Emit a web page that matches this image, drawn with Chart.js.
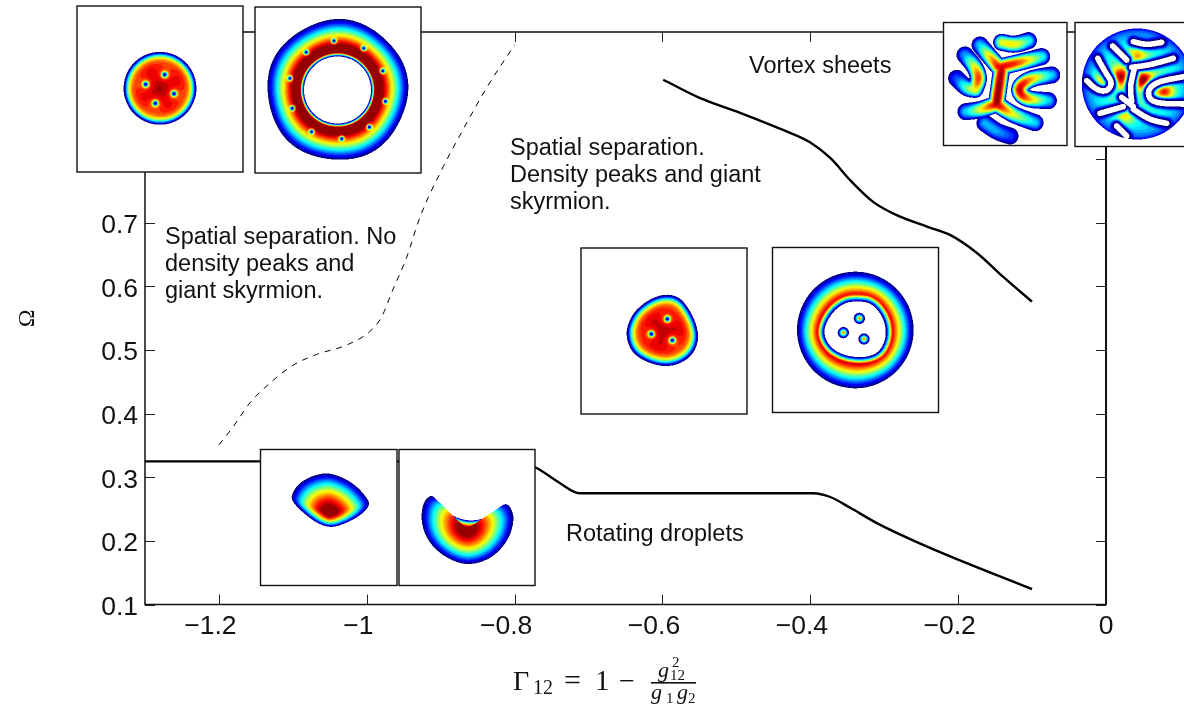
<!DOCTYPE html>
<html>
<head>
<meta charset="utf-8">
<title>Phase diagram</title>
<script src="https://cdn.jsdelivr.net/npm/chart.js@4"></script>
<style>
  html, body { margin: 0; padding: 0; background: #fff; }
  canvas { display: block; }
</style>
</head>
<body>
<canvas id="phase" width="1184" height="709"></canvas>
<script>
// phase boundaries
const dropletX = [-1.3, -1.13, -0.8, -0.771, -0.739, -0.712, -0.701, -0.396, -0.373, -0.346, -0.31, -0.238, -0.1];
const dropletY = [0.325, 0.325, 0.325, 0.315, 0.291, 0.275, 0.275, 0.275, 0.269, 0.252, 0.228, 0.189, 0.124];
const sheetX = [-0.599, -0.549, -0.495, -0.437, -0.401, -0.373, -0.346, -0.315, -0.283, -0.242, -0.211, -0.175, -0.139, -0.1];
const sheetY = [0.925, 0.896, 0.873, 0.846, 0.827, 0.802, 0.767, 0.733, 0.712, 0.694, 0.681, 0.653, 0.615, 0.576];
const dashX = [-1.2, -1.181, -1.158, -1.131, -1.1, -1.068, -1.027, -0.996, -0.98, -0.965, -0.946, -0.928, -0.901, -0.87, -0.838, -0.8];
const dashY = [0.351, 0.379, 0.417, 0.448, 0.476, 0.493, 0.508, 0.529, 0.552, 0.594, 0.646, 0.709, 0.778, 0.846, 0.912, 0.98];

const xTicks = [-1.2, -1, -0.8, -0.6, -0.4, -0.2, 0];
// the minus sign hangs out to the left in the original, trailing spaces push the label over
const xTickLabels = ["\u22121.2", "\u22121", "\u22120.8", "\u22120.6", "\u22120.4", "\u22120.2", "0"];
const yTicks = [0.1, 0.2, 0.3, 0.4, 0.5, 0.6, 0.7, 0.8, 0.9, 1];
const yTickLabels = ["0.1", "0.2", "0.3", "0.4", "0.5", "0.6", "0.7", "0.8", "0.9", "1"];

const notes = [
  ["Spatial separation. No", 165, 238], ["density peaks and", 165, 265], ["giant skyrmion.", 165, 292],
  ["Spatial separation.", 510, 149], ["Density peaks and giant", 510, 176], ["skyrmion.", 510, 203],
  ["Vortex sheets", 749, 67], ["Rotating droplets", 566, 535]
];

function pairs(xs, ys) {
  return xs.map(function (x, i) { return { x: x, y: ys[i] }; });
}

// ---- density insets ----
function jet(d) {
  var x = Math.floor(Math.min(d, 0.999) * 24) / 23.5;
  var c = function (v) { return Math.max(0, Math.min(1, 1.5 - Math.abs(4 * x - v))) * 255; };
  return [c(3), c(2), c(1)];
}

// zoom crops were 3x, so shapes below are noted in crop pixels
function crop(ox, oy, list) {
  return list.map(function (p) { return [ox + p[0] / 3, oy + p[1] / 3].concat(p.slice(2)); });
}

function mix(a, b, t) {
  return a.map(function (v, i) { return v * (1 - t) + b[i] * t; });
}

function chaikin(pts, n) {
  for (var k = 0; k < n; k++) {
    var out = [];
    for (var i = 0; i < pts.length; i++) {
      var a = pts[i], b = pts[(i + 1) % pts.length];
      out.push(mix(a, b, 0.25));
      out.push(mix(a, b, 0.75));
    }
    pts = out;
  }
  return pts;
}

// same corner cutting for an open line, the ends stay put
function roundLine(pts) {
  for (var k = 0; k < 2; k++) {
    var out = [pts[0]];
    for (var i = 0; i + 1 < pts.length; i++) {
      if (i > 0) out.push(mix(pts[i], pts[i + 1], 0.25));
      if (i + 2 < pts.length) out.push(mix(pts[i], pts[i + 1], 0.75));
    }
    out.push(pts[pts.length - 1]);
    pts = out;
  }
  return pts;
}

// boundary radius as a function of angle, cast rays at the outline once and keep a table
function outline(points, cx, cy) {
  var pts = chaikin(points, 2);
  var n = 1440, lut = [];
  for (var i = 0; i < n; i++) {
    var a = -Math.PI + 2 * Math.PI * (i + 0.5) / n;
    var ux = Math.cos(a), uy = Math.sin(a), best = 0;
    for (var j = 0; j < pts.length; j++) {
      var p = pts[j], q = pts[(j + 1) % pts.length];
      var ex = q[0] - p[0], ey = q[1] - p[1];
      var den = ux * ey - uy * ex;
      if (Math.abs(den) < 1e-9) continue;
      var wx = p[0] - cx, wy = p[1] - cy;
      var r = (wx * ey - wy * ex) / den;
      var s = (wx * uy - wy * ux) / den;
      if (r > 0 && s >= 0 && s <= 1 && r > best) best = r;
    }
    lut.push(best);
  }
  return function (x, y) {
    var t = Math.atan2(y - cy, x - cx);
    return lut[Math.min(n - 1, Math.floor((t + Math.PI) / (2 * Math.PI) * n))];
  };
}

function segDist(x, y, a, b) {
  var dx = b[0] - a[0], dy = b[1] - a[1];
  var t = ((x - a[0]) * dx + (y - a[1]) * dy) / (dx * dx + dy * dy);
  t = Math.max(0, Math.min(1, t));
  return { d: Math.hypot(x - a[0] - t * dx, y - a[1] - t * dy), t: t };
}

function vortexDip(x, y, list, w, broad) {
  var f = 1;
  list.forEach(function (v) {
    var r2 = (x - v[0]) * (x - v[0]) + (y - v[1]) * (y - v[1]);
    f *= 1 - Math.exp(-r2 / (w * w));
    f *= 1 - 0.14 * Math.exp(-r2 / (broad * broad));
  });
  return f;
}

function tfDisk(cx, cy, points, vortices, rim) {
  var edge = outline(points, cx, cy);
  return function (x, y) {
    var rho = Math.hypot(x - cx, y - cy) / edge(x, y);
    if (rho >= 1) return -1;
    var s = 1 - rho;
    var d = (1 - Math.exp(-Math.pow(s / rim, 1.4))) * (0.7 + 0.3 * (1 - rho * rho));
    return d * vortexDip(x, y, vortices, 2.8, 9);
  };
}

function circle(cx, cy, r, wob) {
  var pts = [];
  for (var i = 0; i < 48; i++) {
    var a = i / 48 * 2 * Math.PI;
    var k = r * (1 + (wob || 0) * Math.cos(5 * a + 1));
    pts.push([cx + k * Math.cos(a), cy + k * Math.sin(a)]);
  }
  return pts;
}

function ribbons(list, w) {
  var lines = list.map(roundLine);
  return function (x, y) {
    var best = -1;
    lines.forEach(function (line) {
      for (var i = 0; i + 1 < line.length; i++) {
        var s = segDist(x, y, line[i], line[i + 1]);
        if (s.d < w) {
          var amp = line[i][2] + (line[i + 1][2] - line[i][2]) * s.t;
          var v = amp * (1 - s.d * s.d / (w * w));
          if (v > best) best = v;
        }
      }
    });
    return best > 0.004 ? best : -1;
  };
}

var c1 = function (l) { return crop(70, 0, l); };
var c2 = function (l) { return crop(930, 10, l); };
var c3 = function (l) { return crop(570, 240, l); };
var c4 = function (l) { return crop(250, 440, l); };

function ringField() {
  var cx = 337.5, cy = 90, ri = 33.5;
  var outer = outline(circle(cx, cy, 70.5, 0.012), cx, cy);
  var vs = c1([[792, 123], [881, 145], [938, 213], [946, 304], [898, 381], [815, 416], [725, 395], [667, 325], [660, 235], [709, 157]]);
  return function (x, y) {
    var r = Math.hypot(x - cx, y - cy), ro = outer(x, y);
    if (r < ri || r > ro) return -1;
    var t = (r - ri) / (ro - ri);
    var d = Math.min(1, 1.45 * (1 - t));
    if (t < 0.1) d *= Math.pow(t / 0.1, 1.2);
    return d * vortexDip(x, y, vs, 2.4, 1);
  };
}

function ringBlobField() {
  var cx = 855.3, cy = 330, ro = 58.3;
  var hole = c3([[855, 183], [905, 188], [942, 235], [950, 290], [928, 338], [880, 354], [820, 346], [778, 320], [758, 275], [782, 222], [820, 190]]);
  var inner = outline(hole, cx, cy);
  var blobs = c3([[868, 235], [820, 278], [882, 297]]);
  return function (x, y) {
    var r = Math.hypot(x - cx, y - cy), ri = inner(x, y);
    if (r > ro) return -1;
    if (r < ri) {
      for (var i = 0; i < blobs.length; i++) {
        var q = Math.hypot(x - blobs[i][0], y - blobs[i][1]) / 5.6;
        if (q < 1) return 0.88 * Math.pow(1 - q, 1.2);
      }
      return -1;
    }
    var s = (ro - r) / (ro - ri);
    var amp = 0.92 + 0.1 * (y - cy) / ro;
    return Math.min(amp, 1.2 * s) * Math.min(1, Math.pow((r - ri) / 7, 1.1));
  };
}

function lobeField(cx, cy, points, pow) {
  var edge = outline(points, cx, cy);
  return function (x, y) {
    var rho = Math.hypot(x - cx, y - cy) / edge(x, y);
    return rho >= 1 ? -1 : Math.min(1, 1.08 * (1 - Math.pow(rho, pow)));
  };
}

function sheetHoles() {
  var holes = [
    [[610, 95], [650, 105], [695, 97]],
    [[548, 108], [590, 150]],
    [[605, 172], [660, 165], [730, 145]],
    [[503, 145], [525, 185], [548, 220], [530, 245], [500, 240], [470, 212]],
    [[612, 180], [600, 230], [605, 275]],
    [[575, 262], [610, 290]],
    [[762, 200], [680, 215], [650, 245], [668, 280], [760, 282]],
    [[510, 310], [580, 290]],
    [[610, 298], [660, 330], [710, 340]],
    [[560, 348], [590, 378]]
  ].map(c2).map(roundLine);
  var peaks = c2([[572, 200, 0.5], [640, 210, 0.5], [705, 245, 0.45], [622, 135, 0.3], [515, 210, 0.3], [585, 315, 0.3]]);
  var cx = 930 + 622 / 3, cy = 10 + 222 / 3, R = 55.5;
  return function (x, y) {
    var r = Math.hypot(x - cx, y - cy);
    if (r > R) return -1;
    var dist = 1e9;
    holes.forEach(function (h) {
      for (var i = 0; i + 1 < h.length; i++) dist = Math.min(dist, segDist(x, y, h[i], h[i + 1]).d);
    });
    var gap = dist - 2.8;
    if (gap <= 0) return -1;
    var amp = 0.5;
    peaks.forEach(function (p) {
      amp += p[2] * Math.exp(-((x - p[0]) * (x - p[0]) + (y - p[1]) * (y - p[1])) / 90);
    });
    return amp * (1 - Math.exp(-gap * gap / 10)) * Math.pow(1 - r * r / (R * R), 0.35);
  };
}

const insets = [
  { x: 77, y: 6, w: 166, h: 166, field: tfDisk(160, 88.3, circle(160, 88.3, 36.5),
      c1([[284, 224], [227, 253], [312, 281], [256, 310]]), 0.12) },
  { x: 255, y: 7, w: 166, h: 166, field: ringField() },
  { x: 943.5, y: 22.5, w: 123.5, h: 123, field: ribbons([
      [[215, 97, 0.62], [255, 105, 0.68], [295, 92, 0.42]],
      [[150, 105, 0.35], [175, 135, 0.65], [205, 170, 0.9]],
      [[215, 175, 0.95], [207, 230, 1], [200, 280, 1]],
      [[215, 170, 0.9], [265, 158, 0.85], [335, 140, 0.42]],
      [[200, 282, 0.95], [150, 300, 0.62], [108, 305, 0.35]],
      [[200, 282, 0.95], [250, 315, 0.6], [315, 338, 0.35]],
      [[105, 135, 0.3], [135, 170, 0.65], [148, 205, 0.88], [135, 238, 0.65]],
      [[80, 205, 0.22], [110, 235, 0.5], [135, 238, 0.65]],
      [[365, 195, 0.35], [300, 205, 0.75], [262, 235, 0.98], [285, 268, 0.82], [355, 272, 0.35]],
      [[165, 340, 0.32], [200, 365, 0.32], [240, 378, 0.2]]
    ].map(c2), 8.6) },
  { x: 1075, y: 22.5, w: 124, h: 124, field: sheetHoles() },
  { x: 581, y: 248, w: 166, h: 166, field: tfDisk(663.5, 330.5,
      c3([[290, 161], [332, 173], [362, 215], [380, 255], [387, 300], [367, 347], [325, 374], [280, 380], [230, 367], [188, 340], [170, 300], [170, 260], [193, 213], [240, 176]]),
      c3([[292, 237], [244, 282], [307, 301]]), 0.15) },
  { x: 772.5, y: 247.5, w: 166, h: 165, field: ringBlobField() },
  { x: 260.5, y: 449.5, w: 136.5, h: 136, field: lobeField(329.5, 513.5,
      c4([[235, 98], [280, 113], [320, 138], [352, 175], [360, 195], [337, 222], [295, 247], [245, 264], [205, 252], [163, 222], [128, 187], [123, 165], [148, 128], [190, 106]]), 1.5) },
  { x: 399, y: 449.5, w: 136, h: 136, field: lobeField(466.7, 529,
      c4([[545, 162], [565, 188], [600, 225], [650, 243], [700, 238], [745, 205], [770, 187], [789, 215], [791, 250], [774, 302], [732, 349], [680, 372], [630, 372], [573, 344], [531, 299], [513, 245], [518, 188]]), 1.5) }
];

function paintInset(ctx, box) {
  const SS = 2;
  var w = Math.round(box.w * SS), h = Math.round(box.h * SS);
  var off = document.createElement("canvas");
  off.width = w; off.height = h;
  var g = off.getContext("2d");
  var img = g.createImageData(w, h);
  for (var j = 0; j < h; j++) {
    for (var i = 0; i < w; i++) {
      var d = box.field(box.x + (i + 0.5) / SS, box.y + (j + 0.5) / SS);
      var col = d < 0 ? [255, 255, 255] : jet(d);
      var k = (j * w + i) * 4;
      img.data[k] = col[0]; img.data[k + 1] = col[1]; img.data[k + 2] = col[2]; img.data[k + 3] = 255;
    }
  }
  g.putImageData(img, 0, 0);
  ctx.imageSmoothingEnabled = true;
  ctx.drawImage(off, box.x, box.y, box.w, box.h);
  ctx.strokeStyle = "#111";
  ctx.lineWidth = 1.4;
  ctx.strokeRect(box.x, box.y, box.w, box.h);
}

function piece(ctx, txt, x, y, font) {
  ctx.font = font;
  ctx.fillText(txt, x, y);
}

function drawXLabel(ctx) {
  ctx.fillStyle = "#111";
  ctx.textAlign = "left";
  ctx.textBaseline = "alphabetic";
  var s = '"Liberation Serif"', it = 'italic ';
  piece(ctx, "\u0393", 513, 690, "28px " + s);
  piece(ctx, "12", 533, 694, "20px " + s);
  piece(ctx, "=", 564, 690, "30px " + s);
  piece(ctx, "1", 595, 690, "29px " + s);
  piece(ctx, "\u2212", 619, 690, "28px " + s);
  piece(ctx, "g", 658, 677, it + "22px " + s);
  piece(ctx, "12", 670, 680, "15px " + s);
  piece(ctx, "2", 672, 667, "15px " + s);
  ctx.fillRect(651, 682, 45, 1.6);
  piece(ctx, "g", 651, 699, it + "22px " + s);
  piece(ctx, "1", 666, 703, "15px " + s);
  piece(ctx, "g", 677, 699, it + "22px " + s);
  piece(ctx, "2", 688, 703, "15px " + s);
}

const framePlugin = {
  id: "frame",
  beforeDatasetsDraw: function (chart) {
    var ctx = chart.ctx, a = chart.chartArea, sx = chart.scales.x, sy = chart.scales.y;
    ctx.save();
    ctx.strokeStyle = "#222";
    ctx.lineWidth = 1;
    ctx.beginPath();
    xTicks.forEach(function (v) {
      var p = Math.round(sx.getPixelForValue(v)) + 0.5;
      ctx.moveTo(p, a.bottom); ctx.lineTo(p, a.bottom - 10);
      ctx.moveTo(p, a.top); ctx.lineTo(p, a.top + 10);
    });
    yTicks.forEach(function (v) {
      var p = Math.round(sy.getPixelForValue(v)) + 0.5;
      ctx.moveTo(a.left, p); ctx.lineTo(a.left + 10, p);
      ctx.moveTo(a.right, p); ctx.lineTo(a.right - 10, p);
    });
    ctx.stroke();
    ctx.lineWidth = 1.5;
    ctx.strokeStyle = "#111";
    ctx.strokeRect(a.left, a.top, a.right - a.left, a.bottom - a.top);
    ctx.lineWidth = 2;
    ctx.beginPath(); ctx.moveTo(a.right, a.top); ctx.lineTo(a.right, a.bottom); ctx.stroke();
    ctx.restore();
  },
  afterDraw: function (chart) {
    var ctx = chart.ctx;
    ctx.save();
    insets.forEach(function (box) { paintInset(ctx, box); });
    ctx.fillStyle = "#111";
    ctx.font = '23.5px "Liberation Sans"';
    ctx.textAlign = "left";
    ctx.textBaseline = "middle";
    notes.forEach(function (n) { ctx.fillText(n[0], n[1], n[2]); });
    drawXLabel(ctx);
    ctx.restore();
  }
};

const tickFont = { family: '"Liberation Sans"', size: 26.5 };

new Chart(document.getElementById("phase").getContext("2d"), {
  type: "scatter",
  data: {
    datasets: [
      { data: pairs(dropletX, dropletY), showLine: true, borderColor: "#000", borderWidth: 2.4, pointRadius: 0, cubicInterpolationMode: "monotone" },
      { data: pairs(sheetX, sheetY), showLine: true, borderColor: "#000", borderWidth: 2.4, pointRadius: 0, cubicInterpolationMode: "monotone" },
      { data: pairs(dashX, dashY), showLine: true, borderColor: "#000", borderWidth: 1, borderDash: [6, 6], pointRadius: 0, cubicInterpolationMode: "monotone" }
    ]
  },
  options: {
    responsive: false,
    animation: false,
    layout: { padding: { top: 32, right: 78, left: 0, bottom: 0 } },
    plugins: { legend: { display: false }, tooltip: { enabled: false } },
    scales: {
      x: {
        type: "linear",
        min: -1.3,
        max: 0,
        grid: { display: false, drawTicks: false },
        border: { display: false },
        afterBuildTicks: function (s) { s.ticks = xTicks.map(function (v) { return { value: v }; }); },
        afterFit: function (s) { s.height = 104.5; },
        ticks: {
          color: "#111",
          font: tickFont,
          padding: 6,
          maxRotation: 0,
          autoSkip: false,
          callback: function (v) {
            var label = xTickLabels[xTicks.indexOf(v)];
            return v < 0 ? label + "\u00a0\u00a0\u200a" : label;
          }
        }
      },
      y: {
        type: "linear",
        min: 0.1,
        max: 1,
        grid: { display: false, drawTicks: false },
        border: { display: false },
        afterBuildTicks: function (s) { s.ticks = yTicks.map(function (v) { return { value: v }; }); },
        afterFit: function (s) { s.width = 145; },
        title: { display: true, text: "\u03a9", color: "#111", font: { family: '"Liberation Serif"', size: 24 }, padding: { top: 13, bottom: 0 } },
        ticks: {
          color: "#111",
          font: tickFont,
          padding: 7,
          labelOffset: 3,
          autoSkip: false,
          callback: function (v) { return yTickLabels[yTicks.indexOf(v)]; }
        }
      }
    }
  },
  plugins: [framePlugin]
});
</script>
</body>
</html>
